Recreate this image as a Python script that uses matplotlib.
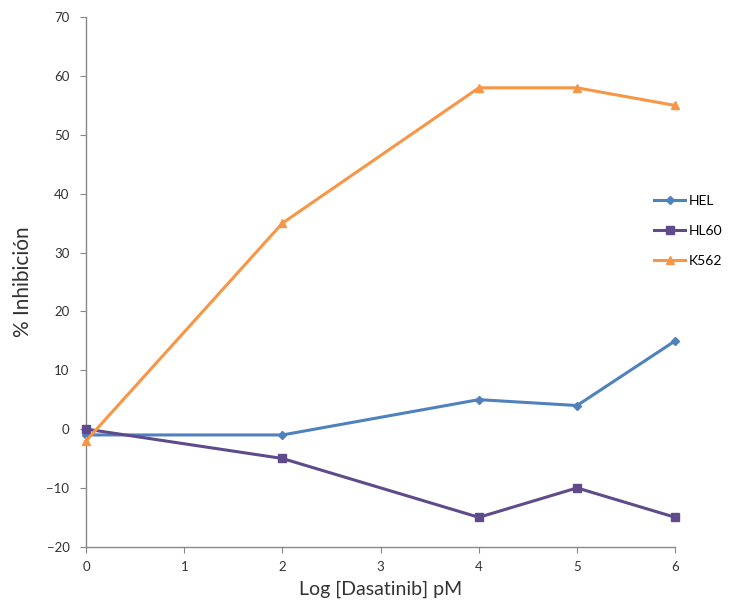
import matplotlib
matplotlib.use("Agg")
import matplotlib.pyplot as plt

log_conc = [0, 2, 4, 5, 6]
hel = [-1, -1, 5, 4, 15]
hl60 = [0, -5, -15, -10, -15]
k562 = [-2, 35, 58, 58, 55]

series = [
    ("HEL", hel, "#4F81BD", "D", 4),
    ("HL60", hl60, "#5F4B8B", "s", 6),
    ("K562", k562, "#F79646", "^", 6),
]

plt.rcParams["font.family"] = ["Lato", "DejaVu Sans"]

fig = plt.figure(figsize=(7.42, 6.15), dpi=100)
ax = fig.add_axes([0.116, 0.111, 0.794, 0.861])

for name, vals, color, marker, ms in series:
    ax.plot(log_conc, vals, color=color, lw=2.2, marker=marker, ms=ms,
            markeredgecolor=color, label=name, clip_on=False, zorder=3)

ax.set_xlim(0, 6)
ax.set_ylim(-20, 70)
ax.set_xticks(range(0, 7))
ax.set_yticks(range(-20, 71, 10))

for side in ("top", "right"):
    ax.spines[side].set_visible(False)
for side in ("left", "bottom"):
    ax.spines[side].set_color("#888888")
    ax.spines[side].set_linewidth(1.0)
ax.tick_params(axis="both", direction="out", length=4, color="#888888",
               labelsize=9.5, labelcolor="#333333")
ax.tick_params(axis="x", pad=6)
ax.tick_params(axis="y", pad=8)

ax.set_xlabel("Log [Dasatinib] pM", fontsize=14, color="#333333", labelpad=6)
ax.set_ylabel("% Inhibición", fontsize=15, color="#333333", labelpad=10)

leg = ax.legend(loc="upper left", bbox_to_anchor=(0.955, 0.675), frameon=False,
                fontsize=10, handlelength=2.2, labelspacing=1.3,
                handletextpad=0.3, borderaxespad=0)

fig.savefig("out.png", dpi=100, facecolor="white")
